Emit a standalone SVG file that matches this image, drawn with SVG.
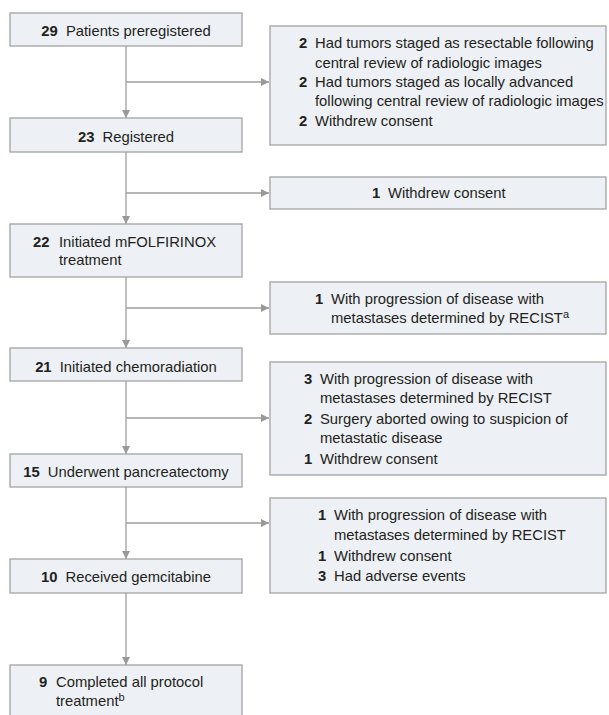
<svg xmlns="http://www.w3.org/2000/svg" width="609" height="715" viewBox="0 0 609 715">
<defs>
<marker id="ah" markerUnits="userSpaceOnUse" markerWidth="10" markerHeight="10" refX="8" refY="4" orient="auto">
<path d="M0,0 L8,4 L0,8 Z" fill="#999"/>
</marker>
<style>
.box{fill:#edf0f4;stroke:#a3a3a3;stroke-width:1.3}
.c{fill:none;stroke:#9e9e9e;stroke-width:1.3}
text{font-family:"Liberation Sans",Arial,sans-serif;font-size:14.8px;fill:#231f20}
.m{text-anchor:middle}
.b{font-weight:bold}
.sup{font-size:11px}
</style>
</defs>
<rect width="609" height="715" fill="#fff"/>
<g id="connectors">
<path class="c" d="M126,46 V118" marker-end="url(#ah)"/>
<path class="c" d="M126,82 H269" marker-end="url(#ah)"/>
<path class="c" d="M126,152 V224" marker-end="url(#ah)"/>
<path class="c" d="M126,193 H269" marker-end="url(#ah)"/>
<path class="c" d="M126,277 V348" marker-end="url(#ah)"/>
<path class="c" d="M126,308 H269" marker-end="url(#ah)"/>
<path class="c" d="M126,381 V454" marker-end="url(#ah)"/>
<path class="c" d="M126,418 H269" marker-end="url(#ah)"/>
<path class="c" d="M126,487 V559" marker-end="url(#ah)"/>
<path class="c" d="M126,523 H269" marker-end="url(#ah)"/>
<path class="c" d="M126,593 V665" marker-end="url(#ah)"/>
</g>
<g id="n1">
<rect class="box" x="10" y="13" width="232" height="33"/>
<text class="m" x="126" y="36"><tspan class="b">29</tspan><tspan dx="4"> Patients preregistered</tspan></text>
</g>
<g id="n2">
<rect class="box" x="10" y="118" width="232" height="34"/>
<text class="m" x="126" y="142"><tspan class="b">23</tspan><tspan dx="4"> Registered</tspan></text>
</g>
<g id="n3">
<rect class="box" x="10" y="224" width="232" height="53"/>
<text x="33" y="247"><tspan class="b">22</tspan><tspan x="59">Initiated mFOLFIRINOX</tspan></text>
<text x="59" y="265">treatment</text>
</g>
<g id="n4">
<rect class="box" x="10" y="348" width="232" height="33"/>
<text class="m" x="126" y="372"><tspan class="b">21</tspan><tspan dx="4"> Initiated chemoradiation</tspan></text>
</g>
<g id="n5">
<rect class="box" x="10" y="454" width="232" height="33"/>
<text class="m" x="126" y="477"><tspan class="b">15</tspan><tspan dx="4"> Underwent pancreatectomy</tspan></text>
</g>
<g id="n6">
<rect class="box" x="10" y="559" width="232" height="34"/>
<text class="m" x="126" y="582"><tspan class="b">10</tspan><tspan dx="4"> Received gemcitabine</tspan></text>
</g>
<g id="n7">
<rect class="box" x="10" y="665" width="232" height="52"/>
<text x="39" y="687"><tspan class="b">9</tspan><tspan x="56">Completed all protocol</tspan></text>
<text x="56" y="706">treatment<tspan class="sup" dy="-5">b</tspan></text>
</g>
<g id="r1">
<rect class="box" x="270" y="26" width="336" height="119"/>
<text x="299" y="48" class="b">2</text><text x="315" y="48">Had tumors staged as resectable following</text>
<text x="315" y="68">central review of radiologic images</text>
<text x="299" y="87" class="b">2</text><text x="315" y="87">Had tumors staged as locally advanced</text>
<text x="315" y="106">following central review of radiologic images</text>
<text x="299" y="126" class="b">2</text><text x="315" y="126">Withdrew consent</text>
</g>
<g id="r2">
<rect class="box" x="270" y="177" width="336" height="32"/>
<text x="372" y="198" class="b">1</text><text x="388" y="198">Withdrew consent</text>
</g>
<g id="r3">
<rect class="box" x="270" y="282" width="336" height="52"/>
<text x="315" y="304" class="b">1</text><text x="331" y="304">With progression of disease with</text>
<text x="331" y="323">metastases determined by RECIST<tspan class="sup" dy="-5">a</tspan></text>
</g>
<g id="r4">
<rect class="box" x="270" y="362" width="336" height="113"/>
<text x="304" y="384" class="b">3</text><text x="320" y="384">With progression of disease with</text>
<text x="320" y="403">metastases determined by RECIST</text>
<text x="304" y="424" class="b">2</text><text x="320" y="424">Surgery aborted owing to suspicion of</text>
<text x="320" y="443">metastatic disease</text>
<text x="304" y="464" class="b">1</text><text x="320" y="464">Withdrew consent</text>
</g>
<g id="r5">
<rect class="box" x="270" y="498" width="336" height="95"/>
<text x="318" y="520" class="b">1</text><text x="334" y="520">With progression of disease with</text>
<text x="334" y="540">metastases determined by RECIST</text>
<text x="318" y="561" class="b">1</text><text x="334" y="561">Withdrew consent</text>
<text x="318" y="581" class="b">3</text><text x="334" y="581">Had adverse events</text>
</g>
</svg>
